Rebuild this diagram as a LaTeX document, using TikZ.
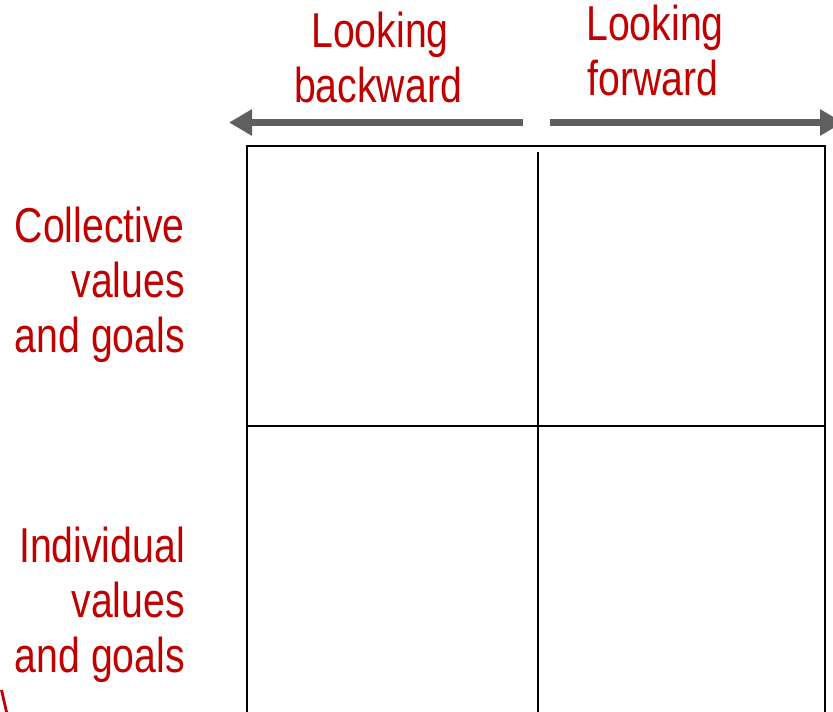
\documentclass[tikz,border=0pt]{standalone}
\usepackage{fontspec}
\setmainfont{Liberation Sans}[FakeStretch=0.8]
\usetikzlibrary{arrows.meta}
\definecolor{lbl}{HTML}{C00000}
\definecolor{arr}{HTML}{5F5F5F}
\tikzset{
  lab/.style={text=lbl, inner sep=0pt, font=\fontsize{49pt}{55pt}\selectfont},
  bigarrow/.style={draw=arr, line width=7.5pt, -{Triangle[length=23pt,width=25pt]}},
  gridline/.style={draw=black, line width=1.8pt}
}
\begin{document}
\begin{tikzpicture}[x=1pt,y=-1pt]
\useasboundingbox (0,0) rectangle (833,712);
\clip (0,0) rectangle (833,712);
\fill[white] (0,0) rectangle (833,712);
% column headers
\node[lab, align=center, anchor=base] (lb1) at (380,47) {Looking};
\node[lab, align=center, anchor=base] (lb2) at (378,102) {backward};
\node[lab, align=center, anchor=base] (lf1) at (655,40) {Looking};
\node[lab, align=center, anchor=base] (lf2) at (653,95) {forward};
% arrows
\coordinate (a1s) at (523,122.5);
\coordinate (a1e) at (229,122.5);
\coordinate (a2s) at (550,122.5);
\coordinate (a2e) at (843,122.5);
\draw[bigarrow] (a1s) -- (a1e);
\draw[bigarrow] (a2s) -- (a2e);
% row labels
\node[lab, anchor=base east] (c1) at (185,242) {Collective};
\node[lab, anchor=base east] (c2) at (185,297) {values};
\node[lab, anchor=base east] (c3) at (185,352) {and goals};
\node[lab, anchor=base east] (i1) at (185,562) {Individual};
\node[lab, anchor=base east] (i2) at (185,617) {values};
\node[lab, anchor=base east] (i3) at (185,672) {and goals};
% grid
\coordinate (tl) at (247,146);
\coordinate (br) at (825,730);
\draw[gridline] (tl) rectangle (br);
\coordinate (vt) at (538,152);
\coordinate (vb) at (538,730);
\draw[gridline] (vt) -- (vb);
\coordinate (hl) at (247,426);
\coordinate (hr) at (825,426);
\draw[gridline] (hl) -- (hr);
% red stroke at bottom left
\coordinate (r1) at (1.5,690);
\coordinate (r2) at (7,714);
\draw[lbl, line width=2.8pt] (r1) -- (r2);
\end{tikzpicture}
\end{document}
